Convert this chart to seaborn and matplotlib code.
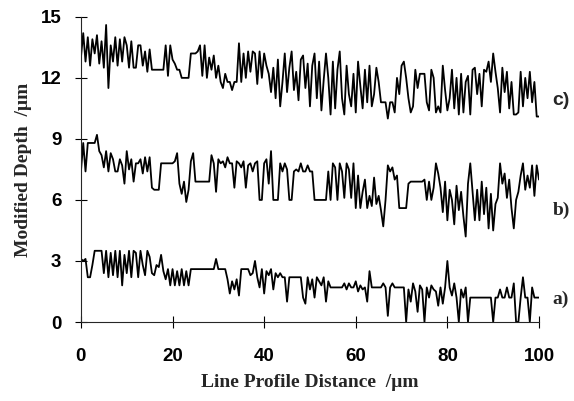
import numpy as np
import pandas as pd
import matplotlib
matplotlib.use("Agg")
import matplotlib.pyplot as plt
import seaborn as sns

# depth profiles, one value every 0.5 um from 0 to 100 um
depth_c = [
    13.0, 14.2, 12.8, 14.0, 12.6, 13.9, 13.2, 14.1, 12.7, 13.8,
    12.5, 14.6, 11.5, 13.6, 12.8, 14.0, 12.6, 13.9, 12.8, 14.0,
    13.6, 12.5, 13.8, 12.5, 12.5, 13.6, 13.6, 12.6, 13.3, 12.3,
    13.4, 12.4, 12.4, 12.4, 12.4, 12.4, 12.4, 13.6, 12.1, 13.6,
    12.9, 12.7, 12.4, 12.4, 12.0, 12.0, 12.0, 12.0, 13.2, 13.2,
    13.2, 13.3, 13.6, 12.1, 13.6, 12.0, 13.0, 12.4, 13.1, 12.0,
    12.6, 11.8, 11.5, 12.2, 11.8, 11.8, 11.4, 11.8, 11.8, 13.7,
    11.8, 13.2, 12.0, 13.3, 12.3, 13.3, 13.2, 11.7, 13.3, 12.0,
    13.2, 12.6, 12.2, 11.3, 12.5, 11.0, 12.9, 10.6, 11.8, 13.2,
    11.3, 12.5, 13.3, 11.4, 12.3, 10.9, 12.9, 13.1, 11.5, 12.7,
    10.6, 12.6, 13.2, 11.0, 12.8, 10.4, 11.9, 13.2, 12.0, 10.2,
    12.8, 10.5, 12.4, 13.3, 11.0, 10.2, 12.6, 11.2, 10.6, 12.2,
    10.3, 12.8, 11.6, 10.5, 12.4, 10.8, 12.6, 10.6, 11.2, 12.5,
    11.8, 10.8, 10.8, 10.8, 10.0, 10.8, 10.8, 10.3, 12.0, 11.2,
    12.6, 12.8, 12.0, 11.0, 10.3, 10.6, 12.4, 11.5, 12.2, 12.2,
    12.2, 10.8, 10.4, 12.4, 12.0, 10.3, 10.6, 10.3, 12.6, 11.4,
    10.4, 11.0, 12.4, 10.5, 12.0, 10.2, 12.2, 10.3, 11.8, 12.1,
    10.2, 12.4, 12.5, 11.2, 12.2, 10.6, 12.4, 12.3, 12.8, 11.8,
    13.2, 12.3, 11.5, 10.3, 12.5, 11.3, 12.3, 10.5, 11.8, 10.2,
    10.2, 10.3, 12.3, 10.6, 12.0, 11.0, 12.3, 10.8, 11.8, 10.1,
    10.1,
]

depth_b = [
    7.4, 8.8, 7.4, 8.8, 8.8, 8.8, 8.8, 9.2, 8.4, 8.2,
    7.6, 8.4, 7.4, 8.3, 8.0, 7.4, 7.4, 8.0, 7.7, 6.8,
    8.4, 7.5, 8.0, 6.9, 7.8, 7.8, 8.0, 7.3, 8.1, 7.4,
    8.1, 6.6, 6.5, 6.5, 6.5, 7.8, 7.8, 7.8, 7.8, 7.8,
    7.8, 7.9, 8.3, 6.8, 6.3, 6.9, 5.9, 6.5, 7.9, 8.3,
    6.9, 6.9, 6.9, 6.9, 6.9, 6.9, 6.9, 8.2, 7.8, 6.4,
    8.0, 7.8, 7.9, 7.6, 8.1, 7.8, 7.8, 6.6, 7.9, 7.8,
    7.6, 7.9, 6.6, 7.7, 7.8, 7.4, 7.8, 7.9, 6.0, 6.0,
    7.8, 8.0, 6.8, 8.4, 6.0, 6.0, 6.0, 7.8, 7.4, 7.8,
    7.5, 6.0, 6.0, 7.4, 7.5, 7.4, 7.8, 7.4, 7.4, 7.7,
    7.4, 7.4, 6.0, 6.0, 6.0, 6.0, 6.0, 6.0, 7.4, 6.0,
    7.8, 7.6, 6.0, 7.8, 7.4, 6.1, 7.8, 7.5, 6.1, 7.8,
    5.6, 7.2, 5.6, 6.4, 7.0, 5.6, 6.2, 5.7, 7.1, 5.8,
    6.2, 5.5, 4.7, 6.0, 7.7, 7.4, 7.6, 7.0, 7.2, 5.6,
    5.6, 5.6, 5.6, 6.8, 6.9, 6.9, 6.9, 6.9, 6.9, 6.9,
    7.0, 6.0, 6.9, 6.0, 6.6, 7.8, 7.3, 6.6, 5.4, 6.9,
    5.0, 6.5, 6.0, 4.8, 6.7, 5.5, 6.4, 5.2, 4.2, 6.8,
    7.8, 6.4, 5.0, 6.5, 5.0, 6.9, 5.3, 6.6, 4.6, 6.3,
    4.5, 5.8, 6.1, 7.8, 6.8, 7.3, 6.1, 7.0, 5.6, 4.6,
    6.0, 6.4, 7.2, 7.8, 6.5, 7.2, 6.6, 7.7, 6.2, 7.7,
    7.0,
]

depth_a = [
    3.1, 3.0, 3.1, 2.2, 2.2, 2.8, 3.5, 3.5, 3.5, 3.5,
    2.4, 3.5, 2.2, 3.4, 2.3, 3.5, 2.2, 3.5, 1.8, 3.3,
    2.4, 3.5, 2.2, 3.5, 3.4, 2.2, 3.5, 2.8, 2.3, 3.5,
    3.2, 2.4, 2.3, 2.8, 2.7, 3.3, 2.5, 2.1, 2.6, 1.8,
    2.6, 1.8, 2.5, 1.8, 2.6, 1.8, 2.5, 1.8, 2.6, 2.6,
    2.6, 2.6, 2.6, 2.6, 2.6, 2.6, 2.6, 2.6, 2.6, 3.1,
    2.6, 2.6, 2.6, 2.6, 2.1, 1.4, 2.0, 1.6, 2.1, 1.3,
    2.6, 2.6, 2.6, 2.6, 2.3, 2.4, 3.0, 2.2, 1.7, 2.6,
    1.4, 2.5, 2.3, 2.6, 1.6, 2.4, 2.2, 2.4, 2.2, 2.2,
    1.0, 2.2, 2.2, 2.2, 2.2, 2.2, 2.2, 1.2, 0.9, 2.2,
    1.6, 2.1, 1.2, 2.2, 2.0, 1.8, 2.2, 1.0, 2.0, 1.7,
    1.7, 1.7, 1.7, 1.7, 1.7, 1.9, 1.6, 1.9, 1.7, 1.7,
    2.0, 1.5, 1.8, 1.6, 1.7, 1.0, 2.5, 1.7, 1.7, 1.7,
    1.7, 1.7, 1.9, 1.7, 0.3, 1.7, 1.9, 1.7, 1.7, 1.7,
    1.7, 1.7, 0.0, 1.6, 1.0, 1.9, 1.5, 0.5, 1.8, 1.6,
    0.0, 1.7, 1.2, 1.8, 1.6, 1.5, 0.8, 1.7, 0.9, 1.7,
    3.0, 1.7, 1.3, 1.9, 1.2, 0.0, 1.6, 1.2, 1.7, 0.0,
    1.2, 1.2, 1.2, 1.2, 1.2, 1.2, 1.2, 1.2, 1.2, 1.2,
    0.0, 1.2, 1.2, 1.6, 1.2, 1.2, 1.7, 1.2, 1.2, 1.9,
    0.0, 0.0, 1.2, 2.2, 1.2, 1.2, 0.0, 1.7, 1.2, 1.2,
    1.2,
]

series_names = ["a)", "b)", "c)"]
label_y = [1.1, 5.5, 10.9]
x_ticks = [0, 20, 40, 60, 80, 100]
y_ticks = [0, 3, 6, 9, 12, 15]

distance = np.linspace(0, 100, len(depth_a))
df = pd.DataFrame({
    "distance": np.tile(distance, 3),
    "depth": depth_a + depth_b + depth_c,
    "profile": np.repeat(series_names, len(distance)),
})

sns.set_style("ticks")
plt.rcParams["font.family"] = ["Liberation Sans", "DejaVu Sans"]

fig = plt.figure(figsize=(5.74, 4.01), dpi=100)
ax = fig.add_axes([0.141, 0.197, 0.798, 0.761])

sns.lineplot(data=df, x="distance", y="depth", units="profile", estimator=None,
             color="black", linewidth=1.3, ax=ax, legend=False)

ax.set_xlim(0, 100)
ax.set_ylim(0, 15)
ax.set_xticks(x_ticks)
ax.set_yticks(y_ticks)
ax.tick_params(axis="both", direction="inout", length=8, width=0.8,
               labelsize=13.5, colors="black")
for lab in ax.get_xticklabels() + ax.get_yticklabels():
    lab.set_fontweight("bold")
ax.tick_params(axis="x", pad=15)
ax.tick_params(axis="y", pad=10)
sns.despine(ax=ax)
ax.spines["left"].set_linewidth(0.8)
ax.spines["bottom"].set_linewidth(0.8)

serif = ["Liberation Serif", "DejaVu Serif"]
ax.set_xlabel("Line Profile Distance  /\u00b5m", fontsize=14, fontweight="bold",
              family=serif, labelpad=6)
ax.set_ylabel("Modified Depth  /\u00b5m", fontsize=14, fontweight="bold",
              family=serif, labelpad=6)

for name, yv in zip(series_names, label_y):
    fam = ["Liberation Sans"] if name == "c)" else serif
    ax.text(103, yv, name, fontsize=14, fontweight="bold", family=fam,
            va="center", ha="left", clip_on=False)

fig.savefig("out.png", dpi=100)
